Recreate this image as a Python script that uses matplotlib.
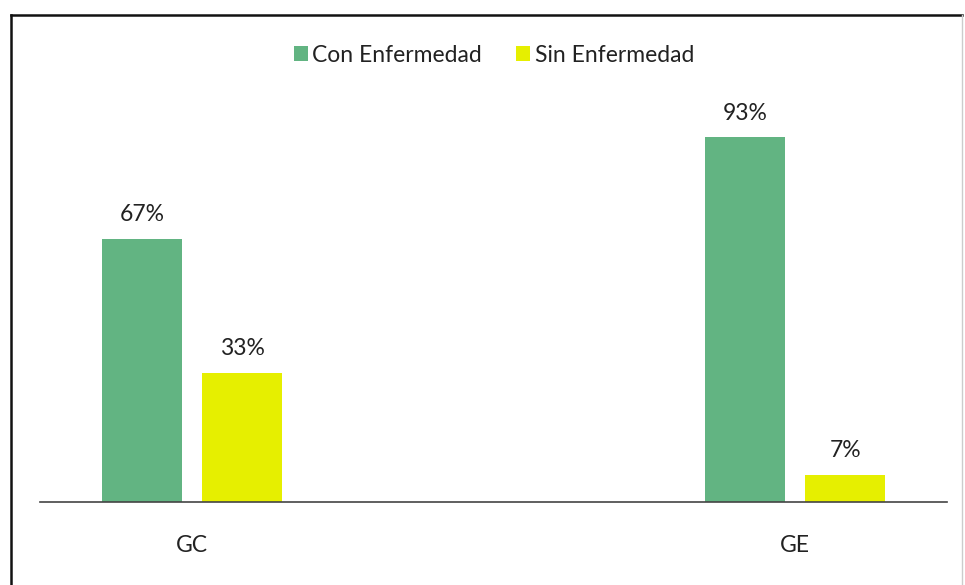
import matplotlib.pyplot as plt
from matplotlib.lines import Line2D
from matplotlib.patches import Patch

# data
groups = ['GC', 'GE']
con_enfermedad = [67, 93]
sin_enfermedad = [33, 7]
series_names = ['Con Enfermedad', 'Sin Enfermedad']

green = '#62b482'
yellow = '#e6ef00'

plt.rcParams['font.family'] = ['Lato', 'DejaVu Sans']

fig = plt.figure(figsize=(9.65, 5.85), dpi=100)
ax = fig.add_axes([40 / 965, (585 - 502) / 585, 907 / 965, 392 / 585])

x = list(range(len(groups)))
width = 0.134
offset = 0.083

bars1 = ax.bar([i - offset for i in x], con_enfermedad, width, color=green)
bars2 = ax.bar([i + offset for i in x], sin_enfermedad, width, color=yellow)

# value labels above each bar
for bars, vals in [(bars1, con_enfermedad), (bars2, sin_enfermedad)]:
    for b, v in zip(bars, vals):
        ax.annotate(f'{v}%', (b.get_x() + b.get_width() / 2, v),
                    xytext=(0, 10), textcoords='offset points',
                    ha='center', va='bottom', fontsize=16.5, color='#222222')

ax.set_xlim(-0.252, 1.252)
ax.set_ylim(0, 100)
ax.set_xticks(x)
ax.set_xticklabels(groups, fontsize=16.5, color='#222222')
ax.tick_params(axis='x', length=0, pad=24)
ax.set_yticks([])
for side in ['top', 'right', 'left']:
    ax.spines[side].set_visible(False)
ax.spines['bottom'].set_color('#444444')
ax.spines['bottom'].set_linewidth(1.2)

handles = [Patch(facecolor=green), Patch(facecolor=yellow)]
fig.legend(handles, series_names, loc='center', bbox_to_anchor=(494 / 965, 1 - 55 / 585),
           ncol=2, frameon=False, fontsize=16.5, handlelength=0.6, handleheight=0.6,
           handletextpad=0.2, columnspacing=1.5, labelcolor='#222222')

# outer frame
fig.add_artist(Line2D([11 / 965, 962 / 965], [1 - 15 / 585, 1 - 15 / 585],
                      color='#111111', linewidth=1.8))
fig.add_artist(Line2D([11 / 965, 11 / 965], [0, 1 - 15 / 585],
                      color='#111111', linewidth=1.8))
fig.add_artist(Line2D([962 / 965, 962 / 965], [0, 1 - 15 / 585],
                      color='#cccccc', linewidth=1.0))

fig.savefig('out.png', dpi=100)
